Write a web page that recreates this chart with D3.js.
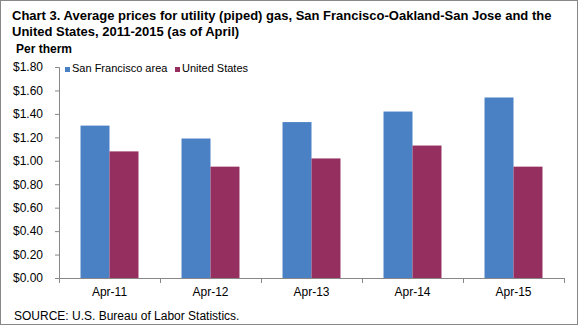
<!DOCTYPE html>
<html>
<head>
<meta charset="utf-8">
<script src="https://cdn.jsdelivr.net/npm/d3@7"></script>
<style>
  body { margin: 0; background: #fff; }
  text { font-family: Arial, "Liberation Sans", sans-serif; fill: #000; }
</style>
</head>
<body>
<div class="chart"></div>
<script>
//Chart data.
var years = ["Apr-11", "Apr-12", "Apr-13", "Apr-14", "Apr-15"];
var seriesNames = ["San Francisco area", "United States"];
var sanFrancisco = [1.30, 1.19, 1.33, 1.42, 1.54];
var unitedStates = [1.08, 0.95, 1.02, 1.13, 0.95];
var yTicks = [0, 0.2, 0.4, 0.6, 0.8, 1.0, 1.2, 1.4, 1.6, 1.8];

var colors = ["#4a80c4", "#952f60"];

//SVG area and plot box.
var svgWidth = 579;
var svgHeight = 326;
var margin = { top: 67, right: 15, bottom: 48, left: 59 };
var chartWidth = svgWidth - margin.left - margin.right;
var chartHeight = svgHeight - margin.top - margin.bottom;

var svg = d3.select(".chart")
  .append("svg")
  .attr("width", svgWidth)
  .attr("height", svgHeight);

//Outer frame.
svg.append("rect")
  .attr("x", 0.5).attr("y", 0.5)
  .attr("width", 577).attr("height", 324)
  .attr("fill", "none")
  .attr("stroke", "#888");

//Title.
var title = svg.append("text")
  .attr("font-weight", "bold")
  .attr("font-size", 13);
title.append("tspan").attr("x", 12).attr("y", 20)
  .text("Chart 3. Average prices for utility (piped) gas, San Francisco-Oakland-San Jose and the");
title.append("tspan").attr("x", 12).attr("y", 36)
  .text("United States, 2011-2015 (as of April)");

svg.append("text")
  .attr("x", 16).attr("y", 53)
  .attr("font-weight", "bold")
  .attr("font-size", 12)
  .text("Per therm");

var chart = svg.append("g")
  .attr("transform", "translate(" + margin.left + "," + margin.top + ")");

//Scales.
var x0 = d3.scaleBand()
  .domain(years)
  .range([0, chartWidth])
  .paddingInner(0.426)
  .paddingOuter(0.213);

var x1 = d3.scaleBand()
  .domain(seriesNames)
  .range([0, x0.bandwidth()]);

var y = d3.scaleLinear()
  .domain([0, 1.8])
  .range([chartHeight, 0]);

//Bars.
var data = years.map(function(d, i) {
  return { year: d, values: [sanFrancisco[i], unitedStates[i]] };
});

chart.selectAll(".group")
  .data(data)
  .enter().append("g")
  .attr("transform", function(d) { return "translate(" + x0(d.year) + ",0)"; })
  .selectAll("rect")
  .data(function(d) { return d.values.map(function(v, j) { return { name: seriesNames[j], value: v, j: j }; }); })
  .enter().append("rect")
  .attr("x", function(d) { return x1(d.name); })
  .attr("y", function(d) { return y(d.value); })
  .attr("width", x1.bandwidth())
  .attr("height", function(d) { return chartHeight - y(d.value); })
  .attr("fill", function(d) { return colors[d.j]; });

//Axes.
var leftAxis = d3.axisLeft(y)
  .tickValues(yTicks)
  .tickSize(4)
  .tickPadding(12)
  .tickFormat(function(d) { return "$" + d.toFixed(2); });

var yAxis = chart.append("g").call(leftAxis);
yAxis.select(".domain").attr("stroke", "#888");
yAxis.selectAll(".tick line").attr("stroke", "#888");
yAxis.selectAll(".tick text")
  .attr("font-size", 12)
  .attr("font-family", "Arial, 'Liberation Sans', sans-serif");

var xAxisG = chart.append("g")
  .attr("transform", "translate(0," + chartHeight + ")");
xAxisG.append("line")
  .attr("x1", 0).attr("x2", chartWidth)
  .attr("y1", 0.5).attr("y2", 0.5)
  .attr("stroke", "#888");
//Category separators below the axis.
var edges = years.map(function(d) { return x0(d) - x0.step() * x0.paddingInner() / 2; });
edges.push(chartWidth);
xAxisG.selectAll(".sep")
  .data(edges)
  .enter().append("line")
  .attr("x1", function(d) { return Math.round(d) + 0.5; })
  .attr("x2", function(d) { return Math.round(d) + 0.5; })
  .attr("y1", 0).attr("y2", 5)
  .attr("stroke", "#888");
xAxisG.selectAll(".lbl")
  .data(years)
  .enter().append("text")
  .attr("x", function(d) { return x0(d) + x0.bandwidth() / 2; })
  .attr("y", 18)
  .attr("text-anchor", "middle")
  .attr("font-size", 12)
  .text(function(d) { return d; });

//Legend.
var legendX = [65, 175];
var legend = svg.selectAll(".legend")
  .data(seriesNames)
  .enter().append("g")
  .attr("transform", function(d, i) { return "translate(" + legendX[i] + ",67)"; });
legend.append("rect")
  .attr("width", 5).attr("height", 5)
  .attr("fill", function(d, i) { return colors[i]; });
legend.append("text")
  .attr("x", 7).attr("y", 5)
  .attr("font-size", 11)
  .text(function(d) { return d; });

//Source note.
svg.append("text")
  .attr("x", 14).attr("y", 320)
  .attr("font-size", 12)
  .text("SOURCE: U.S. Bureau of Labor Statistics.");
</script>
</body>
</html>
